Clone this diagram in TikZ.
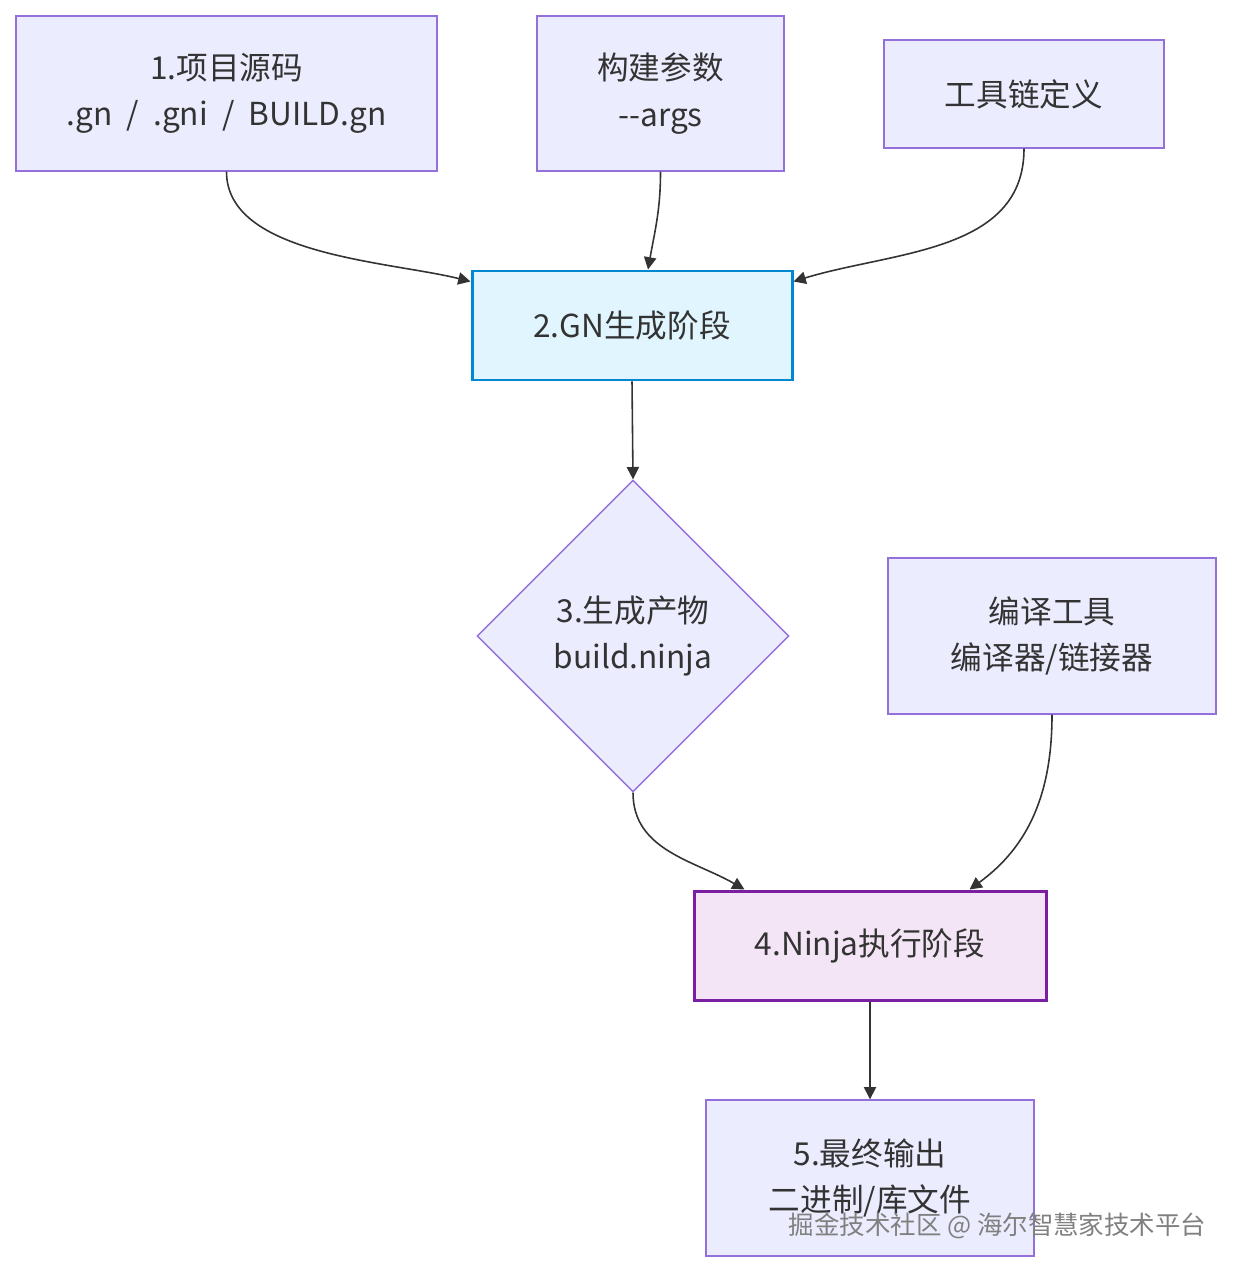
\documentclass[tikz,border=0pt]{standalone}
\usepackage{fontspec}
\setmainfont{Noto Sans CJK SC}
\usetikzlibrary{shapes.geometric,arrows.meta}
\definecolor{boxfill}{HTML}{ECECFF}
\definecolor{boxline}{HTML}{9370DB}
\definecolor{gnfill}{HTML}{E1F5FE}
\definecolor{gnline}{HTML}{0288D1}
\definecolor{njfill}{HTML}{F3E5F5}
\definecolor{njline}{HTML}{7B1FA2}
\definecolor{txt}{HTML}{333333}
\begin{document}
\begin{tikzpicture}[
    box/.style = {draw=boxline, fill=boxfill, line width=0.8pt, align=center, text=txt,
                  font=\fontsize{18}{26.5}\selectfont, inner sep=0pt},
    gnbox/.style = {box, draw=gnline, fill=gnfill, line width=1.7pt},
    njbox/.style = {box, draw=njline, fill=njfill, line width=1.7pt},
    flow/.style = {draw=txt, line width=0.9pt, -{Triangle[length=7pt,width=7pt]}}
    ]
    \useasboundingbox (0, 0) rectangle (24.66, -25.44);
    \node [box, minimum width=8.42cm, minimum height=3.10cm] (src) at (4.53, -1.87)
        {1.项目源码\\.gn\ \ /\ \ .gni\ \ /\ \ BUILD.gn};
    \node [box, minimum width=4.94cm, minimum height=3.10cm] (args) at (13.21, -1.87)
        {构建参数\\-{}-args};
    \node [box, minimum width=5.60cm, minimum height=2.16cm] (tc) at (20.48, -1.88)
        {工具链定义};
    \node [gnbox, minimum width=6.40cm, minimum height=2.18cm] (gn) at (12.64, -6.51)
        {2.GN生成阶段};
    \node [box, diamond, aspect=1, minimum width=6.24cm, minimum height=6.24cm] (prod) at (12.66, -12.72)
        {3.生成产物\\build.ninja};
    \node [box, minimum width=6.56cm, minimum height=3.12cm] (tools) at (21.04, -12.72)
        {编译工具\\编译器/链接器};
    \node [njbox, minimum width=7.04cm, minimum height=2.18cm] (nj) at (17.40, -18.91)
        {4.Ninja执行阶段};
    \node [box, minimum width=6.56cm, minimum height=3.12cm] (out) at (17.40, -23.56)
        {5.最终输出\\二进制/库文件};
    \draw [flow] (src.south) to [out=-90, in=166, looseness=0.8] ([yshift=-0.24cm]gn.north west);
    \draw [flow] (args.south) to [out=-90, in=80] ([xshift=0.32cm]gn.north);
    \draw [flow] (tc.south) to [out=-90, in=17] ([yshift=-0.24cm]gn.north east);
    \draw [flow] (gn.south) -- (prod.north);
    \draw [flow] (prod.south) to [out=-90, in=150] ([xshift=1.04cm]nj.north west);
    \draw [flow] (tools.south) to [out=-90, in=36] ([xshift=-1.56cm]nj.north east);
    \draw [flow] (nj.south) -- (out.north);
    \node [text=black!50, font=\fontsize{14.5}{16}\selectfont] (mark) at (19.95, -24.52)
        {掘金技术社区 @ 海尔智慧家技术平台};
\end{tikzpicture}
\end{document}
